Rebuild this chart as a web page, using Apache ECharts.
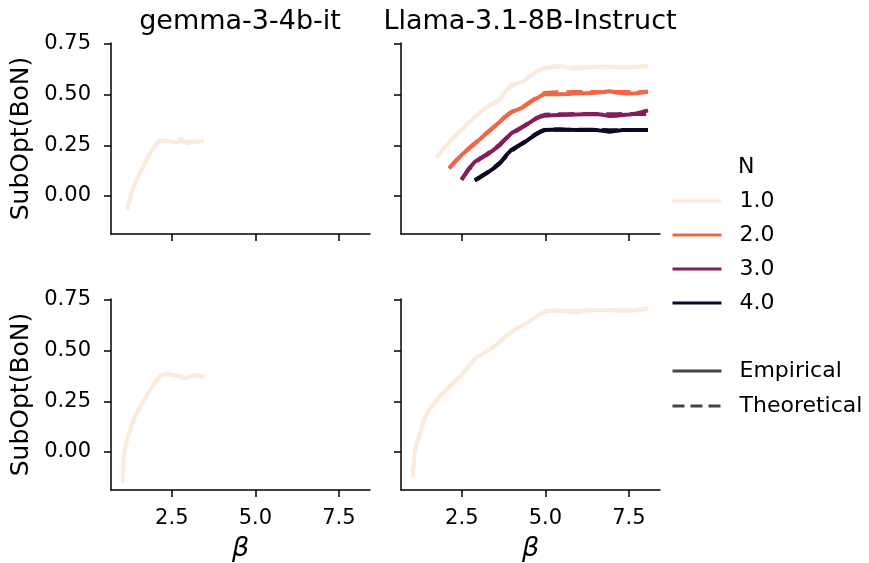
<!DOCTYPE html>
<html>
<head>
<meta charset="utf-8">
<script src="https://cdn.jsdelivr.net/npm/echarts@6/dist/echarts.min.js"></script>
<style>
  html, body { margin: 0; padding: 0; background: #fff; }
  #chart { width: 869px; height: 563px; }
</style>
</head>
<body>
<div id="chart"></div>
<script>
// tick labels
const yTicks = [0, 0.25, 0.5, 0.75]
const xTicks = [2.5, 5.0, 7.5]
const nLevels = ['1.0', '2.0', '3.0', '4.0']
const nColors = ['#faebdd', '#ef6747', '#841e5a', '#0b0a22']

// gemma-3-4b-it, top row, N = 1
const betaGemmaTop = [1.16, 1.25, 1.35, 1.45, 1.55, 1.65, 1.75, 1.85, 1.95, 2.05, 2.13, 2.25, 2.35, 2.45, 2.6, 2.7, 2.78, 2.85, 2.95, 3.05, 3.15, 3.25, 3.3, 3.38, 3.45]
const empGemmaTop = [-0.069, -0.01, 0.046, 0.08, 0.112, 0.15, 0.177, 0.21, 0.235, 0.26, 0.271, 0.274, 0.276, 0.27, 0.263, 0.27, 0.284, 0.268, 0.26, 0.266, 0.268, 0.266, 0.263, 0.27, 0.276]
const theoGemmaTop = [-0.065, -0.01, 0.044, 0.08, 0.113, 0.148, 0.18, 0.21, 0.237, 0.258, 0.27, 0.272, 0.272, 0.27, 0.268, 0.27, 0.272, 0.27, 0.268, 0.268, 0.268, 0.268, 0.268, 0.27, 0.272]

// Llama-3.1-8B-Instruct, top row, N = 1..4
const betaLlamaTop1 = [1.74, 1.94, 2.14, 2.32, 2.49, 2.66, 2.84, 3.04, 3.24, 3.44, 3.64, 3.8, 3.98, 4.15, 4.33, 4.53, 4.73, 4.88, 5.03, 5.23, 5.43, 5.63, 5.83, 6.08, 6.32, 6.57, 6.82, 7.07, 7.32, 7.7, 8.07]
const empLlamaTop1 = [0.186, 0.23, 0.268, 0.3, 0.325, 0.355, 0.383, 0.41, 0.437, 0.455, 0.473, 0.515, 0.547, 0.555, 0.563, 0.59, 0.612, 0.624, 0.632, 0.638, 0.642, 0.635, 0.626, 0.63, 0.634, 0.636, 0.637, 0.635, 0.632, 0.636, 0.64]
const theoLlamaTop1 = [0.19, 0.232, 0.268, 0.298, 0.326, 0.354, 0.382, 0.41, 0.436, 0.458, 0.478, 0.51, 0.54, 0.556, 0.568, 0.59, 0.61, 0.624, 0.632, 0.636, 0.638, 0.636, 0.634, 0.635, 0.636, 0.637, 0.637, 0.637, 0.636, 0.638, 0.64]

const betaLlamaTop2 = [2.12, 2.3, 2.49, 2.66, 2.84, 3.04, 3.24, 3.44, 3.64, 3.8, 3.98, 4.15, 4.33, 4.53, 4.73, 4.85, 4.98, 5.2, 5.43, 5.68, 5.93, 6.22, 6.52, 6.72, 6.92, 7.12, 7.32, 7.52, 7.72, 7.9, 8.07]
const empLlamaTop2 = [0.136, 0.17, 0.202, 0.226, 0.251, 0.28, 0.309, 0.337, 0.366, 0.392, 0.415, 0.425, 0.437, 0.46, 0.481, 0.492, 0.502, 0.501, 0.502, 0.503, 0.506, 0.507, 0.509, 0.512, 0.516, 0.51, 0.506, 0.505, 0.506, 0.51, 0.514]
const theoLlamaTop2 = [0.138, 0.17, 0.2, 0.228, 0.254, 0.282, 0.31, 0.338, 0.366, 0.39, 0.412, 0.426, 0.44, 0.462, 0.484, 0.496, 0.508, 0.51, 0.511, 0.511, 0.512, 0.512, 0.512, 0.513, 0.514, 0.513, 0.512, 0.512, 0.512, 0.513, 0.514]

const betaLlamaTop3 = [2.49, 2.69, 2.89, 3.06, 3.24, 3.44, 3.64, 3.8, 3.98, 4.15, 4.33, 4.53, 4.73, 4.85, 4.98, 5.2, 5.43, 5.68, 5.93, 6.22, 6.52, 6.72, 6.92, 7.12, 7.32, 7.52, 7.72, 7.9, 8.07]
const empLlamaTop3 = [0.079, 0.13, 0.169, 0.186, 0.202, 0.226, 0.251, 0.28, 0.309, 0.325, 0.341, 0.362, 0.383, 0.39, 0.396, 0.398, 0.399, 0.4, 0.402, 0.403, 0.404, 0.4, 0.394, 0.396, 0.399, 0.402, 0.407, 0.414, 0.422]
const theoLlamaTop3 = [0.082, 0.128, 0.165, 0.186, 0.205, 0.23, 0.255, 0.28, 0.305, 0.323, 0.342, 0.363, 0.384, 0.393, 0.4, 0.402, 0.403, 0.403, 0.404, 0.404, 0.404, 0.404, 0.403, 0.403, 0.404, 0.404, 0.404, 0.404, 0.404]

const betaLlamaTop4 = [2.89, 3.06, 3.24, 3.44, 3.64, 3.8, 3.98, 4.15, 4.33, 4.53, 4.73, 4.85, 4.98, 5.2, 5.43, 5.68, 5.93, 6.22, 6.52, 6.72, 6.92, 7.12, 7.32, 7.7, 8.07]
const empLlamaTop4 = [0.076, 0.094, 0.112, 0.135, 0.161, 0.195, 0.227, 0.244, 0.26, 0.283, 0.305, 0.316, 0.325, 0.327, 0.328, 0.326, 0.325, 0.325, 0.325, 0.321, 0.317, 0.321, 0.325, 0.325, 0.325]
const theoLlamaTop4 = [0.078, 0.095, 0.114, 0.138, 0.164, 0.192, 0.222, 0.242, 0.262, 0.285, 0.307, 0.318, 0.326, 0.328, 0.328, 0.327, 0.326, 0.326, 0.326, 0.325, 0.324, 0.324, 0.325, 0.325, 0.326]

// bottom row, N = 1
const betaGemmaBottom = [1.04, 1.05, 1.09, 1.13, 1.19, 1.25, 1.3, 1.35, 1.42, 1.5, 1.57, 1.65, 1.75, 1.85, 1.95, 2.05, 2.12, 2.2, 2.3, 2.4, 2.52, 2.65, 2.8, 2.93, 3.05, 3.15, 3.22, 3.3, 3.38, 3.45]
const empGemmaBottom = [-0.151, -0.039, 0.01, 0.043, 0.08, 0.108, 0.135, 0.158, 0.183, 0.207, 0.228, 0.248, 0.278, 0.305, 0.332, 0.355, 0.37, 0.379, 0.383, 0.384, 0.38, 0.374, 0.368, 0.363, 0.372, 0.379, 0.38, 0.379, 0.372, 0.368]
const theoGemmaBottom = [-0.14, -0.04, 0.008, 0.042, 0.078, 0.106, 0.133, 0.157, 0.183, 0.208, 0.229, 0.25, 0.278, 0.305, 0.33, 0.353, 0.367, 0.376, 0.381, 0.382, 0.38, 0.377, 0.373, 0.372, 0.374, 0.377, 0.378, 0.377, 0.374, 0.372]

const betaLlamaBottom = [1.03, 1.06, 1.1, 1.17, 1.25, 1.32, 1.4, 1.52, 1.64, 1.74, 1.84, 1.99, 2.14, 2.32, 2.49, 2.69, 2.89, 3.06, 3.24, 3.44, 3.64, 3.8, 3.98, 4.15, 4.33, 4.53, 4.73, 4.88, 5.03, 5.23, 5.43, 5.63, 5.83, 6.08, 6.32, 6.57, 6.82, 7.07, 7.32, 7.52, 7.72, 7.9, 8.07]
const empLlamaBottom = [-0.122, -0.06, 0.01, 0.05, 0.092, 0.13, 0.174, 0.205, 0.232, 0.252, 0.273, 0.298, 0.322, 0.35, 0.379, 0.42, 0.462, 0.478, 0.494, 0.518, 0.543, 0.568, 0.593, 0.61, 0.626, 0.646, 0.667, 0.682, 0.696, 0.697, 0.696, 0.692, 0.688, 0.694, 0.7, 0.7, 0.7, 0.698, 0.695, 0.697, 0.7, 0.703, 0.706]
const theoLlamaBottom = [-0.11, -0.055, 0.008, 0.052, 0.094, 0.132, 0.17, 0.205, 0.232, 0.254, 0.275, 0.3, 0.325, 0.352, 0.38, 0.418, 0.458, 0.478, 0.496, 0.52, 0.545, 0.568, 0.59, 0.608, 0.626, 0.646, 0.666, 0.68, 0.694, 0.696, 0.696, 0.696, 0.696, 0.697, 0.698, 0.699, 0.699, 0.699, 0.699, 0.7, 0.701, 0.703, 0.705]

const FONT = 'DejaVu Sans'
const zip = (xs, ys) => xs.map((x, i) => [x, ys[i]])

// panel boxes
const panels = [
  { left: 111, top: 43, row: 0, col: 0 },
  { left: 401, top: 43, row: 0, col: 1 },
  { left: 111, top: 299, row: 1, col: 0 },
  { left: 401, top: 299, row: 1, col: 1 }
]

const axisLineStyle = { color: '#000', width: 1.5 }

const grids = panels.map(p => ({ left: p.left, top: p.top, width: 259, height: 191 }))

const xAxes = panels.map((p, i) => ({
  type: 'value',
  gridIndex: i,
  min: 0.68,
  max: 8.43,
  name: p.row === 1 ? 'β' : '',
  nameLocation: 'middle',
  nameGap: 45,
  nameTextStyle: { fontFamily: FONT, fontSize: 27, fontStyle: 'italic', color: '#000' },
  axisLine: { show: true, onZero: false, lineStyle: axisLineStyle },
  axisTick: { show: true, length: 7, customValues: xTicks, lineStyle: axisLineStyle },
  axisLabel: {
    show: p.row === 1,
    customValues: xTicks,
    formatter: v => v.toFixed(1),
    fontFamily: FONT, fontSize: 21, color: '#000', margin: 18
  },
  splitLine: { show: false }
}))

const yAxes = panels.map((p, i) => ({
  type: 'value',
  gridIndex: i,
  min: -0.187,
  max: 0.754,
  name: p.col === 0 ? 'SubOpt(BoN)' : '',
  nameLocation: 'middle',
  nameGap: 77,
  nameTextStyle: { fontFamily: FONT, fontSize: 25, color: '#000' },
  axisLine: { show: true, onZero: false, lineStyle: axisLineStyle },
  axisTick: { show: true, length: 7, customValues: yTicks, lineStyle: axisLineStyle },
  axisLabel: {
    show: p.col === 0,
    customValues: yTicks,
    formatter: v => v.toFixed(2),
    fontFamily: FONT, fontSize: 21, color: '#000', margin: 20
  },
  splitLine: { show: false }
}))

const lineSeries = (name, color, data, idx, dashed) => ({
  name,
  type: 'line',
  xAxisIndex: idx,
  yAxisIndex: idx,
  data,
  symbol: 'none',
  showSymbol: false,
  lineStyle: { color, width: 4, type: dashed ? 'dashed' : 'solid' },
  itemStyle: { color },
  emphasis: { disabled: true }
})

const series = [
  lineSeries('1.0', nColors[0], zip(betaGemmaTop, empGemmaTop), 0, false),
  lineSeries('1.0', nColors[0], zip(betaGemmaTop, theoGemmaTop), 0, true),

  lineSeries('1.0', nColors[0], zip(betaLlamaTop1, empLlamaTop1), 1, false),
  lineSeries('1.0', nColors[0], zip(betaLlamaTop1, theoLlamaTop1), 1, true),
  lineSeries('2.0', nColors[1], zip(betaLlamaTop2, empLlamaTop2), 1, false),
  lineSeries('2.0', nColors[1], zip(betaLlamaTop2, theoLlamaTop2), 1, true),
  lineSeries('3.0', nColors[2], zip(betaLlamaTop3, empLlamaTop3), 1, false),
  lineSeries('3.0', nColors[2], zip(betaLlamaTop3, theoLlamaTop3), 1, true),
  lineSeries('4.0', nColors[3], zip(betaLlamaTop4, empLlamaTop4), 1, false),
  lineSeries('4.0', nColors[3], zip(betaLlamaTop4, theoLlamaTop4), 1, true),

  lineSeries('1.0', nColors[0], zip(betaGemmaBottom, empGemmaBottom), 2, false),
  lineSeries('1.0', nColors[0], zip(betaGemmaBottom, theoGemmaBottom), 2, true),
  lineSeries('1.0', nColors[0], zip(betaLlamaBottom, empLlamaBottom), 3, false),
  lineSeries('1.0', nColors[0], zip(betaLlamaBottom, theoLlamaBottom), 3, true),

  // style-only entries for the second legend
  lineSeries('Empirical', '#444444', [], 0, false),
  lineSeries('Theoretical', '#444444', [], 0, true)
]

const legendText = { fontFamily: FONT, fontSize: 22, color: '#000', padding: [0, 0, 0, 13] }
const legendBase = {
  orient: 'vertical',
  left: 671,
  padding: 0,
  itemWidth: 49,
  itemHeight: 22,
  selectedMode: false,
  lineStyle: { width: 3 },
  itemStyle: { color: 'rgba(0,0,0,0)', borderWidth: 0, opacity: 0 },
  textStyle: legendText
}

const option = {
  backgroundColor: '#fff',
  animation: false,
  grid: grids,
  xAxis: xAxes,
  yAxis: yAxes,
  legend: [
    Object.assign({}, legendBase, { data: nLevels, top: 190, itemGap: 12 }),
    Object.assign({}, legendBase, { data: ['Empirical', 'Theoretical'], top: 360, itemGap: 13 })
  ],
  graphic: [
    {
      type: 'text', left: 738, top: 156,
      style: { text: 'N', font: '22px "DejaVu Sans"', fill: '#000' }
    },
    {
      type: 'text', x: 240, y: 22,
      style: { text: 'gemma-3-4b-it', font: '27px "DejaVu Sans"', fill: '#000', textAlign: 'center', textVerticalAlign: 'middle' }
    },
    {
      type: 'text', x: 530, y: 22,
      style: { text: 'Llama-3.1-8B-Instruct', font: '27px "DejaVu Sans"', fill: '#000', textAlign: 'center', textVerticalAlign: 'middle' }
    }
  ],
  series
}

const myChart = echarts.init(document.getElementById('chart'), null, { renderer: 'canvas' })
myChart.setOption(option)
</script>
</body>
</html>
